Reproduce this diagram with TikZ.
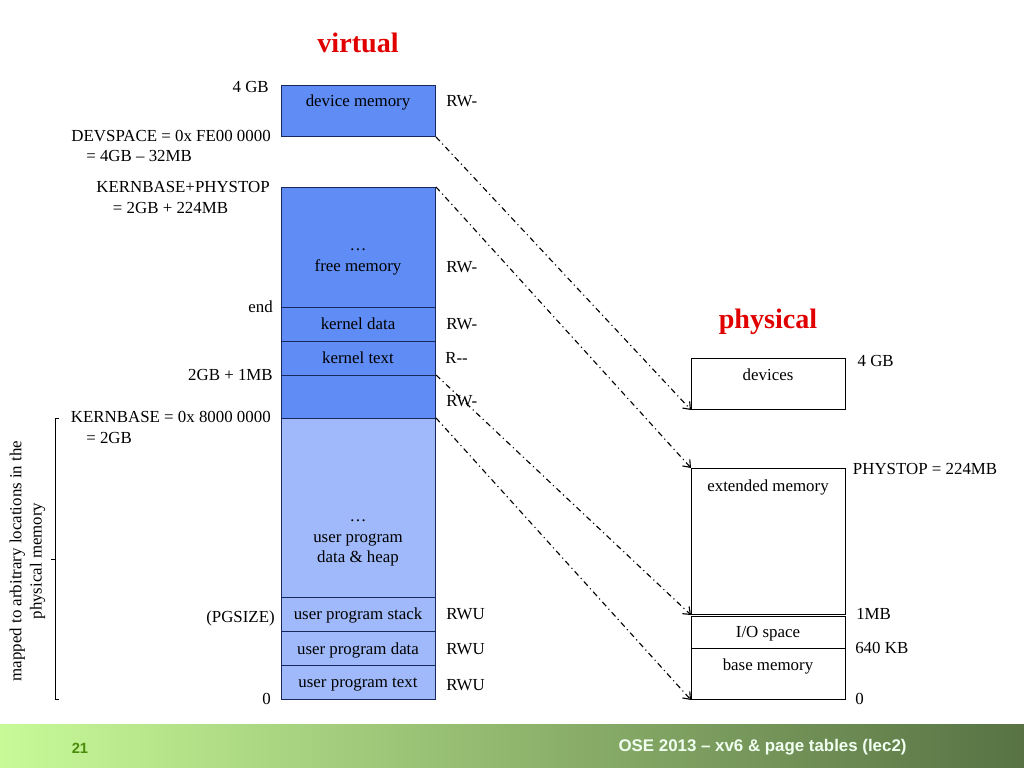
\documentclass[tikz,border=0pt]{standalone}
\usepackage{fontspec}
\setmainfont{Liberation Serif}
\newfontfamily\footfont{Liberation Sans}
\usepackage{tikz}
\usetikzlibrary{arrows,arrows.meta,positioning}

\definecolor{kernblue}{RGB}{95,140,245}
\definecolor{userblue}{RGB}{160,185,250}
\definecolor{boxline}{RGB}{25,40,90}
\definecolor{titlered}{RGB}{225,0,0}
\definecolor{footlight}{RGB}{200,250,152}
\definecolor{footmid}{RGB}{150,190,110}
\definecolor{footdark}{RGB}{88,114,68}
\definecolor{numgreen}{RGB}{75,140,10}

\tikzset{
  mem/.style={draw, line width=0.7pt, minimum width=3.85cm, inner sep=0pt, anchor=north west},
  kmem/.style={mem, draw=boxline, fill=kernblue},
  umem/.style={mem, draw=boxline, fill=userblue},
  pmem/.style={mem, draw=black, fill=white},
  lbl/.style={inner sep=0pt, font=\fontsize{12}{14.4}\selectfont},
  heading/.style={inner sep=0pt, text=titlered, font=\fontsize{20}{24}\selectfont\bfseries},
  mapline/.style={-{Straight Barb[length=4.5pt, width=7pt, line width=0.8pt]}, line width=0.8pt, dash pattern=on 4pt off 2.5pt on 0.8pt off 2.5pt}
}

\begin{document}
\begin{tikzpicture}[x=0.025cm, y=-0.025cm]
\useasboundingbox (0,0) rectangle (1024,768);

% footer bar
\shade [left color=footlight, middle color=footmid, right color=footdark] (0,724) rectangle (1024,768);
\node [anchor=base, inner sep=0pt, text=numgreen, font=\footfont\bfseries\fontsize{10.5}{12}\selectfont] (slideno) at (80,753) {21};
\node [anchor=base west, inner sep=0pt, text=white!94!green, font=\footfont\bfseries\fontsize{12}{14}\selectfont] (foottext) at (618.3,751) {OSE 2013 – xv6 \& page tables (lec2)};

% virtual address space
\node [heading, anchor=base] (vtitle) at (358,52.7) {virtual};

\node [kmem, minimum height=1.275cm] (devmem) at (281,85) {};
\node [kmem, minimum height=3cm] (freemem) at (281,187) {};
\node [kmem, minimum height=0.85cm] (kdata) at (281,307) {};
\node [kmem, minimum height=0.85cm] (ktext) at (281,341) {};
\node [kmem, minimum height=1.075cm] (kpad) at (281,375) {};
\node [umem, minimum height=4.475cm] (heap) at (281,418) {};
\node [umem, minimum height=0.85cm] (ustack) at (281,597) {};
\node [umem, minimum height=0.85cm] (udata) at (281,631) {};
\node [umem, minimum height=0.85cm] (utext) at (281,665) {};

\node [lbl, anchor=base] (devmemtxt) at (358,106.7) {device memory};
\node [lbl, anchor=base] (freedots) at (358,250) {…};
\node [lbl, anchor=base] (freetxt) at (358,271.5) {free memory};
\node [lbl, anchor=base] (kdatatxt) at (358,329) {kernel data};
\node [lbl, anchor=base] (ktexttxt) at (358,363) {kernel text};
\node [lbl, anchor=base] (heapdots) at (358,521.7) {…};
\node [lbl, anchor=base] (heaptxta) at (358,542.7) {user program};
\node [lbl, anchor=base] (heaptxtb) at (358,562.3) {data \& heap};
\node [lbl, anchor=base] (ustacktxt) at (358,619.3) {user program stack};
\node [lbl, anchor=base] (udatatxt) at (358,654) {user program data};
\node [lbl, anchor=base] (utexttxt) at (358,687.3) {user program text};

% permissions
\node [lbl, anchor=base west] (permdev) at (446,106.7) {RW-};
\node [lbl, anchor=base west] (permfree) at (446,272) {RW-};
\node [lbl, anchor=base west] (permkdata) at (446,329) {RW-};
\node [lbl, anchor=base west] (permktext) at (445,363) {R{-}{-}};
\node [lbl, anchor=base west] (permkpad) at (446,406) {RW-};
\node [lbl, anchor=base west] (permstack) at (446,619.3) {RWU};
\node [lbl, anchor=base west] (permudata) at (446,654) {RWU};
\node [lbl, anchor=base west] (permutext) at (446,690.7) {RWU};

% virtual addresses
\node [lbl, anchor=base east] (v4gb) at (269,93) {4 GB};
\node [lbl, anchor=base east] (vdevspace) at (271,142) {DEVSPACE = 0x FE00 0000};
\node [lbl, anchor=base west] (vdevspaceb) at (86,161.7) {= 4GB – 32MB};
\node [lbl, anchor=base east] (vphystop) at (270,192.7) {KERNBASE+PHYSTOP};
\node [lbl, anchor=base west] (vphystopb) at (112.7,213.3) {= 2GB + 224MB};
\node [lbl, anchor=base east] (vend) at (273,312) {end};
\node [lbl, anchor=base east] (v1mb) at (273,380) {2GB + 1MB};
\node [lbl, anchor=base east] (vkernbase) at (271,422.7) {KERNBASE = 0x 8000 0000};
\node [lbl, anchor=base west] (vkernbaseb) at (86,443.3) {= 2GB};
\node [lbl, anchor=base east] (vpgsize) at (275,622) {(PGSIZE)};
\node [lbl, anchor=base] (vzero) at (266.7,704) {0};

% user part bracket
\draw [line width=0.7pt] (59,418) -- (55,418) -- (55,699) -- (59,699);
\draw [line width=0.7pt] (55,559) -- (51,559);
\node [lbl, rotate=90, align=center] (usernote) at (27.5,561) {mapped to arbitrary locations in the\\physical memory};

% physical memory
\node [heading, anchor=base] (ptitle) at (768,328.3) {physical};

\node [pmem, minimum height=1.275cm] (devices) at (691,358) {};
\node [pmem, minimum height=3.65cm] (extmem) at (691,468) {};
\node [pmem, minimum height=0.8cm] (iospace) at (691,616) {};
\node [pmem, minimum height=1.275cm] (basemem) at (691,648) {};

\node [lbl, anchor=base] (devicestxt) at (768,380) {devices};
\node [lbl, anchor=base] (extmemtxt) at (768,491) {extended memory};
\node [lbl, anchor=base] (iospacetxt) at (768,637.7) {I/O space};
\node [lbl, anchor=base] (basememtxt) at (768,670) {base memory};

\node [lbl, anchor=base west] (p4gb) at (857.3,366.7) {4 GB};
\node [lbl, anchor=base west] (pphystop) at (852.7,474.3) {PHYSTOP = 224MB};
\node [lbl, anchor=base west] (p1mb) at (856,619) {1MB};
\node [lbl, anchor=base west] (p640) at (855,653.3) {640 KB};
\node [lbl, anchor=base west] (pzero) at (855,704) {0};

% mappings
\draw [mapline] (devmem.south east) -- (devices.south west);
\draw [mapline] (freemem.north east) -- (extmem.north west);
\draw [mapline] (kpad.north east) -- (extmem.south west);
\draw [mapline] (heap.north east) -- (basemem.south west);
\end{tikzpicture}
\end{document}
